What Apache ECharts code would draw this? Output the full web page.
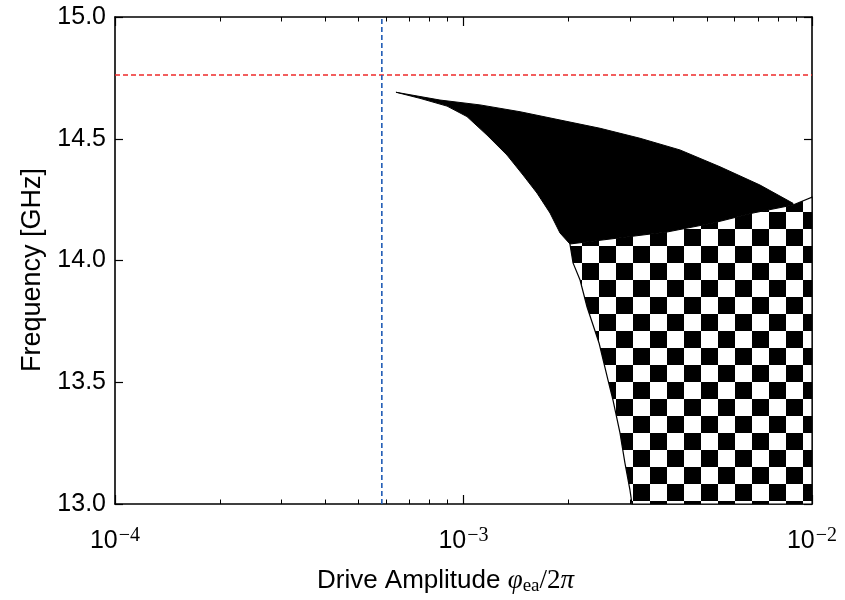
<!DOCTYPE html>
<html>
<head>
<meta charset="utf-8">
<script src="https://cdn.jsdelivr.net/npm/echarts@6/dist/echarts.min.js"></script>
<style>
html,body{margin:0;padding:0;background:#fff;}
#chart{width:845px;height:600px;}
</style>
</head>
<body>
<div id="chart"></div>
<script>
// ---- data ----
const xMajorTicks = [1e-4, 1e-3, 1e-2];
const xMinorTicks = [2e-4,3e-4,4e-4,5e-4,6e-4,7e-4,8e-4,9e-4,2e-3,3e-3,4e-3,5e-3,6e-3,7e-3,8e-3,9e-3];
const yTicks = [13.0, 13.5, 14.0, 14.5, 15.0];

const resonanceFreq = 14.762;       // red dashed line [GHz]
const criticalAmp = 5.83e-4;        // blue dashed line

// black region: upper edge (left -> right)
const tongueUpperX = [6.40e-4, 8.56e-4, 1.115e-3, 1.453e-3, 1.892e-3, 2.465e-3, 3.209e-3, 4.18e-3, 5.445e-3, 7.09e-3, 8.82e-3];
const tongueUpperY = [14.691, 14.659, 14.639, 14.611, 14.577, 14.543, 14.502, 14.454, 14.385, 14.310, 14.235];
// black region: lower-left edge (tip -> down to checker corner)
const tongueLowerX = [6.40e-4, 7.50e-4, 8.97e-4, 1.023e-3, 1.168e-3, 1.333e-3, 1.482e-3, 1.625e-3, 1.771e-3, 1.892e-3, 2.02e-3];
const tongueLowerY = [14.691, 14.666, 14.634, 14.591, 14.515, 14.433, 14.351, 14.277, 14.195, 14.113, 14.068];
// boundary between black and checkered regions (left -> right)
const boundaryX = [2.02e-3, 3.836e-3, 5.20e-3, 6.77e-3, 8.82e-3, 1e-2];
const boundaryY = [14.068, 14.117, 14.154, 14.195, 14.228, 14.260];
// checkered region: left edge (top -> bottom)
const checkerLeftX = [2.02e-3, 2.062e-3, 2.160e-3, 2.262e-3, 2.45e-3, 2.598e-3, 2.685e-3, 2.812e-3, 2.906e-3, 3.004e-3, 3.044e-3];
const checkerLeftY = [14.068, 13.990, 13.920, 13.809, 13.660, 13.509, 13.427, 13.292, 13.168, 13.057, 13.0];
const yMin = 13.0, yMax = 15.0, xMin = 1e-4, xMax = 1e-2;

// ---- polygons built from the arrays ----
const blackPoly = [];
for (let i = 0; i < tongueUpperX.length; i++) blackPoly.push([tongueUpperX[i], tongueUpperY[i]]);
for (let i = boundaryX.length - 2; i >= 0; i--) blackPoly.push([boundaryX[i], boundaryY[i]]);
for (let i = tongueLowerX.length - 1; i >= 0; i--) blackPoly.push([tongueLowerX[i], tongueLowerY[i]]);

const checkerPoly = [];
for (let i = 0; i < checkerLeftX.length; i++) checkerPoly.push([checkerLeftX[i], checkerLeftY[i]]);
checkerPoly.push([xMax, yMin]);
for (let i = boundaryX.length - 1; i >= 0; i--) checkerPoly.push([boundaryX[i], boundaryY[i]]);

const sans = 'Liberation Sans';
const serif = 'Liberation Serif';
const FS = 25;
const TFS = 26;

// checkerboard hatch style (screen-space pattern)
const CELL = 17, PHASE_X = 599, PHASE_Y = 246;

function blackSeries(poly) {
  return {
    type: 'custom', xAxisIndex: 0, yAxisIndex: 0, data: poly, silent: true, z: 2,
    renderItem: function (params, api) {
      if (params.dataIndex !== 0) return null;
      const pts = poly.map(p => api.coord(p));
      return { type: 'polygon', shape: { points: pts }, style: { fill: '#000', stroke: '#000', lineWidth: 1 } };
    }
  };
}

function checkerSeries(poly) {
  return {
    type: 'custom', xAxisIndex: 0, yAxisIndex: 0, data: poly, silent: true, z: 2,
    renderItem: function (params, api) {
      if (params.dataIndex !== 0) return null;
      const pts = poly.map(p => api.coord(p));
      let x0 = Infinity, x1 = -Infinity, y0 = Infinity, y1 = -Infinity;
      pts.forEach(p => { x0 = Math.min(x0, p[0]); x1 = Math.max(x1, p[0]); y0 = Math.min(y0, p[1]); y1 = Math.max(y1, p[1]); });
      const i0 = Math.floor((x0 - PHASE_X) / CELL) - 1, i1 = Math.ceil((x1 - PHASE_X) / CELL) + 1;
      const j0 = Math.floor((y0 - PHASE_Y) / CELL) - 1, j1 = Math.ceil((y1 - PHASE_Y) / CELL) + 1;
      const cells = [];
      for (let i = i0; i <= i1; i++) for (let j = j0; j <= j1; j++) {
        if (((i + j) % 2 + 2) % 2 !== 0) continue;
        cells.push({
          type: 'rect',
          shape: { x: PHASE_X + i * CELL, y: PHASE_Y + j * CELL, width: CELL, height: CELL },
          style: { fill: '#000' },
          clipPath: { type: 'polygon', shape: { points: pts } }
        });
      }
      return {
        type: 'group',
        children: [
          { type: 'polygon', shape: { points: pts }, style: { fill: '#fff' } }
        ].concat(cells).concat([
          { type: 'polygon', shape: { points: pts }, style: { fill: null, stroke: '#000', lineWidth: 1.2 } }
        ])
      };
    }
  };
}

const supLabel = v => {
  const e = Math.round(Math.log10(v));
  return '{b|10}{s|−' + Math.abs(e) + '}';
};

const chart = echarts.init(document.getElementById('chart'), null, { renderer: 'canvas' });
const axisLine = { show: true, onZero: false, lineStyle: { color: '#000', width: 1.6 } };

chart.setOption({
  animation: false,
  backgroundColor: '#fff',
  grid: { left: 115, right: 33, top: 17, bottom: 96, containLabel: false, outerBoundsMode: 'none' },
  graphic: [
    {
      type: 'text', x: 33, y: 270, rotation: Math.PI / 2, silent: true,
      style: { text: 'Frequency [GHz]', fontFamily: sans, fontSize: TFS + 1, fill: '#000', align: 'center', verticalAlign: 'middle' }
    }
  ],
  xAxis: [
    {
      type: 'log', logBase: 10, min: xMin, max: xMax, position: 'bottom',
      axisLine: axisLine,
      axisTick: { show: true, inside: true, length: 9, customValues: xMajorTicks, lineStyle: { color: '#000', width: 1.2 } },
      axisLabel: {
        show: true, margin: 22, customValues: xMajorTicks,
        formatter: supLabel,
        rich: {
          b: { fontFamily: sans, fontSize: FS, color: '#000', lineHeight: 30 },
          s: { fontFamily: serif, fontSize: 20, color: '#000', verticalAlign: 'top', padding: [0, 0, 16, 1], lineHeight: 30 }
        }
      },
      splitLine: { show: false },
      name: '{t|Drive Amplitude }{m|φ}{sub|ea}{n|/2}{m|π}',
      nameLocation: 'middle', nameGap: 62,
      nameTextStyle: {
        padding: [0, 36, 0, 0],
        rich: {
          t: { fontFamily: sans, fontSize: TFS, color: '#000' },
          m: { fontFamily: serif, fontStyle: 'italic', fontSize: TFS + 1, color: '#000' },
          n: { fontFamily: serif, fontSize: TFS + 1, color: '#000' },
          sub: { fontFamily: serif, fontSize: 19, color: '#000', padding: [11, 0, 0, 0] }
        }
      }
    },
    {
      type: 'log', logBase: 10, min: xMin, max: xMax, position: 'bottom',
      axisLine: { show: false },
      axisTick: { show: true, inside: true, length: 4.5, customValues: xMinorTicks, lineStyle: { color: '#000', width: 1 } },
      axisLabel: { show: false }, splitLine: { show: false }
    },
    {
      type: 'log', logBase: 10, min: xMin, max: xMax, position: 'top',
      axisLine: axisLine,
      axisTick: { show: true, inside: true, length: 9, customValues: xMajorTicks, lineStyle: { color: '#000', width: 1.2 } },
      axisLabel: { show: false }, splitLine: { show: false }
    },
    {
      type: 'log', logBase: 10, min: xMin, max: xMax, position: 'top',
      axisLine: { show: false },
      axisTick: { show: true, inside: true, length: 4.5, customValues: xMinorTicks, lineStyle: { color: '#000', width: 1 } },
      axisLabel: { show: false }, splitLine: { show: false }
    }
  ],
  yAxis: [
    {
      type: 'value', min: yMin, max: yMax, interval: 0.5, position: 'left',
      axisLine: axisLine,
      axisTick: { show: true, inside: true, length: 8, lineStyle: { color: '#000', width: 1.2 } },
      axisLabel: { fontFamily: sans, fontSize: FS, color: '#000', margin: 9, formatter: v => v.toFixed(1) },
      splitLine: { show: false }
    },
    {
      type: 'value', min: yMin, max: yMax, interval: 0.5, position: 'right',
      axisLine: axisLine,
      axisTick: { show: true, inside: true, length: 8, lineStyle: { color: '#000', width: 1.2 } },
      axisLabel: { show: false }, splitLine: { show: false }
    }
  ],
  series: [
    blackSeries(blackPoly),
    checkerSeries(checkerPoly),
    {
      type: 'line', xAxisIndex: 0, yAxisIndex: 0, symbol: 'none', silent: true, z: 5,
      data: [[xMin, resonanceFreq], [xMax, resonanceFreq]],
      lineStyle: { color: '#ee2a2a', width: 1.6, type: [5, 3] }
    },
    {
      type: 'line', xAxisIndex: 0, yAxisIndex: 0, symbol: 'none', silent: true, z: 5,
      data: [[criticalAmp, yMin], [criticalAmp, yMax]],
      lineStyle: { color: '#1f5bb5', width: 1.6, type: [5, 3] }
    }
  ]
});
</script>
</body>
</html>
